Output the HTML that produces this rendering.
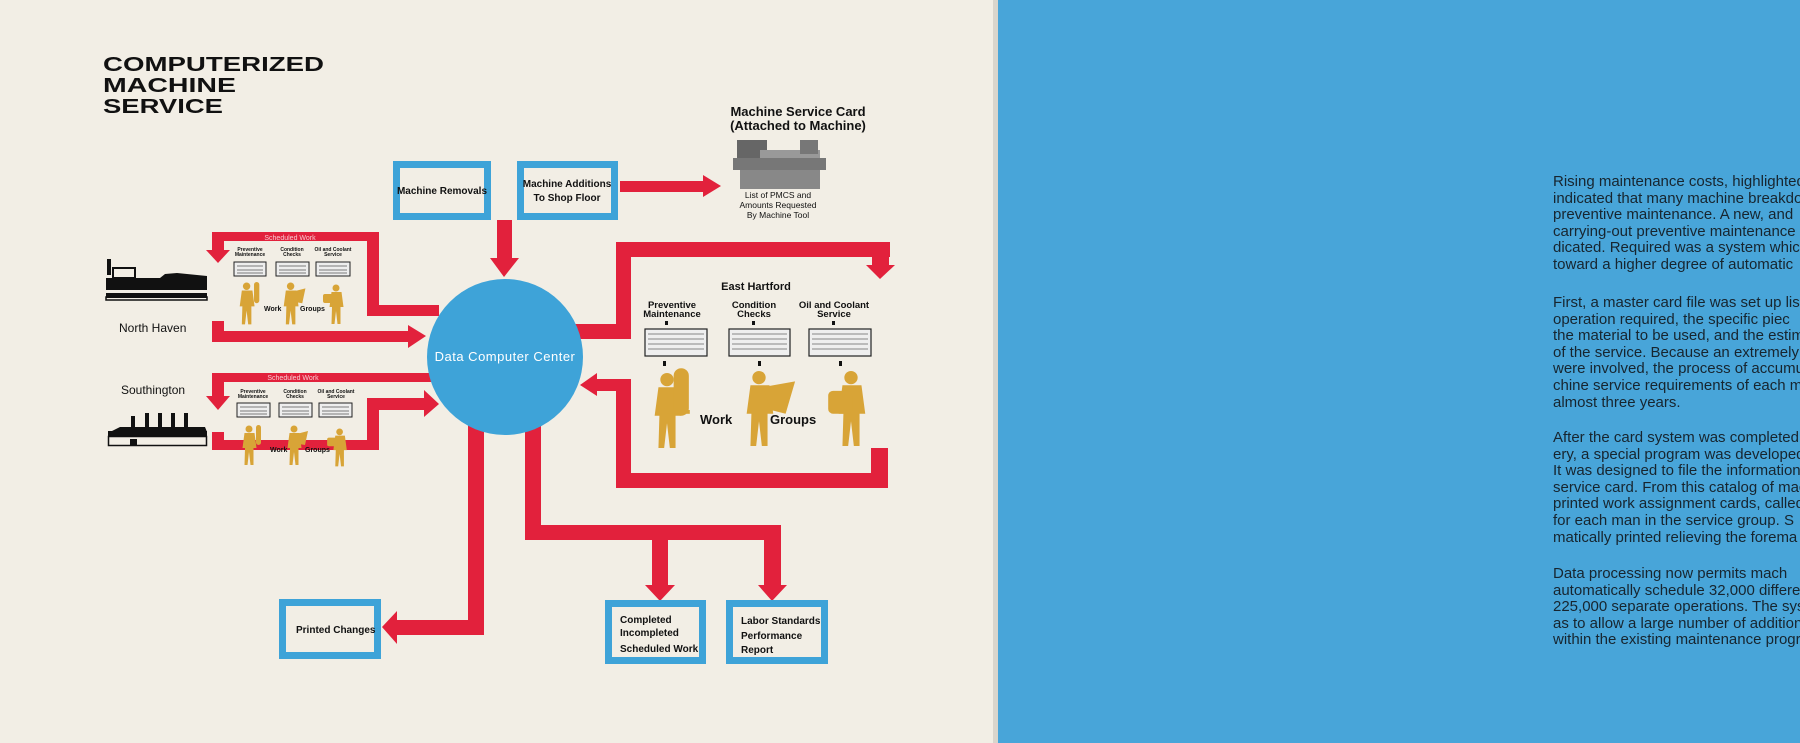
<!DOCTYPE html>
<html><head><meta charset="utf-8"><style>
html,body{margin:0;padding:0;width:1800px;height:743px;overflow:hidden;background:#f2eee5;}
#wrap{position:relative;width:1800px;height:743px;overflow:hidden;}
svg{display:block;position:absolute;left:0;top:0}
.t{font-family:"Liberation Sans",Arial,sans-serif;}
#txt{position:absolute;left:1540px;top:0;width:260px;height:743px;overflow:hidden;}
.rt{position:absolute;left:13px;font-family:"Liberation Sans",Arial,sans-serif;font-size:15px;color:#17252f;white-space:nowrap;line-height:16.6px;}
</style></head><body><div id="wrap">
<svg width="1800" height="743" viewBox="0 0 1800 743" xmlns="http://www.w3.org/2000/svg">
<defs>
<g id="p1"><circle cx="20" cy="8" r="7"/><path d="M11 16 L31 16 L35 46 L29 46 L29 80 L23 80 L20 54 L17 80 L11 80 L12 46 L7 46 Z"/></g>
</defs>
<rect x="0" y="0" width="995" height="743" fill="#f2eee5"/>
<rect x="993" y="0" width="6" height="743" fill="#d9d5cc"/>
<rect x="998" y="0" width="802" height="743" fill="#48a5d9"/>

<g class="t" font-weight="bold" font-size="20" fill="#111">
<text x="103" y="71" textLength="221" lengthAdjust="spacingAndGlyphs">COMPUTERIZED</text>
<text x="103" y="92" textLength="133" lengthAdjust="spacingAndGlyphs">MACHINE</text>
<text x="103" y="113" textLength="120" lengthAdjust="spacingAndGlyphs">SERVICE</text>
</g>

<g fill="#e2213c">
<rect x="497" y="220" width="15" height="42"/><polygon points="490,258 519,258 504,277"/>
<rect x="620" y="181" width="86" height="11"/><polygon points="703,175 721,186 703,197"/>
<rect x="212" y="232" width="167" height="9"/><rect x="367" y="232" width="12" height="84"/><rect x="367" y="305" width="72" height="11"/>
<rect x="212" y="232" width="12" height="22"/><polygon points="206,250 230,250 218,263"/>
<rect x="212" y="321" width="12" height="21"/><rect x="212" y="331" width="200" height="11"/><polygon points="408,325 426,336 408,348"/>
<rect x="212" y="373" width="222" height="9"/><rect x="212" y="373" width="12" height="26"/><polygon points="206,396 230,396 218,410"/>
<rect x="367" y="398" width="62" height="12"/><polygon points="424,390 439,404 424,417"/>
<rect x="367" y="398" width="12" height="52"/><rect x="212" y="440" width="167" height="10"/><rect x="212" y="432" width="12" height="18"/>
<rect x="616" y="242" width="274" height="15"/><rect x="872" y="242" width="17" height="26"/><polygon points="866,265 895,265 880,279"/>
<rect x="616" y="242" width="15" height="97"/><rect x="575" y="324" width="56" height="15"/>
<rect x="594" y="379" width="37" height="12"/><polygon points="597,373 580,385 597,396"/>
<rect x="616" y="379" width="15" height="109"/><rect x="616" y="473" width="272" height="15"/><rect x="871" y="448" width="17" height="40"/>
<rect x="468" y="420" width="16" height="215"/><rect x="394" y="620" width="90" height="15"/><polygon points="397,611 382,627 397,644"/>
<rect x="525" y="420" width="16" height="120"/><rect x="525" y="525" width="256" height="15"/>
<rect x="652" y="525" width="16" height="64"/><polygon points="645,585 675,585 660,601"/>
<rect x="764" y="525" width="17" height="64"/><polygon points="758,585 787,585 772,601"/>
</g>

<circle cx="505" cy="357" r="78" fill="#3ea3d8"/>
<text class="t" x="505" y="361" text-anchor="middle" font-size="13" fill="#fff" letter-spacing="0.5">Data  Computer  Center</text>

<g fill="none" stroke="#3ea3d8" stroke-width="7">
<rect x="396.5" y="164.5" width="91" height="52"/>
<rect x="520.5" y="164.5" width="94" height="52"/>
<rect x="282.5" y="602.5" width="95" height="53"/>
<rect x="608.5" y="603.5" width="94" height="57"/>
<rect x="729.5" y="603.5" width="95" height="57"/>
</g>
<g class="t" font-weight="bold" font-size="10" fill="#111">
<text x="442" y="194" text-anchor="middle">Machine Removals</text>
<text x="567" y="187" text-anchor="middle">Machine Additions</text>
<text x="567" y="201" text-anchor="middle">To Shop Floor</text>
<text x="296" y="633">Printed Changes</text>
<text x="620" y="623">Completed</text>
<text x="620" y="636">Incompleted</text>
<text x="620" y="652">Scheduled Work</text>
<text x="741" y="624">Labor Standards</text>
<text x="741" y="639">Performance</text>
<text x="741" y="653">Report</text>
</g>

<g class="t" font-weight="bold" fill="#111">
<text x="798" y="116" text-anchor="middle" font-size="13">Machine Service Card</text>
<text x="798" y="130" text-anchor="middle" font-size="13">(Attached to Machine)</text>
<g font-size="8.5" font-weight="normal" text-anchor="middle"><text x="778" y="198">List of PMCS and</text><text x="778" y="208">Amounts Requested</text><text x="778" y="218">By Machine Tool</text></g>
</g>
<g><rect x="737" y="140" width="30" height="22" fill="#666"/><rect x="733" y="158" width="93" height="12" fill="#777"/><rect x="740" y="170" width="80" height="19" fill="#888"/><rect x="760" y="150" width="60" height="8" fill="#999"/><rect x="800" y="140" width="18" height="14" fill="#777"/></g>

<g fill="#111">
<rect x="107" y="259" width="4" height="16"/><rect x="113" y="268" width="22" height="10" fill="none" stroke="#111" stroke-width="2"/>
<path d="M106 278 L160 278 L165 274 L177 273 L207 276 L207 298 L106 298 Z"/>
<rect x="106" y="290" width="101" height="3" fill="#f2eee5"/><rect x="106" y="297" width="101" height="3" fill="none" stroke="#111" stroke-width="1.5"/>
<rect x="131" y="416" width="4" height="12"/><rect x="145" y="413" width="4" height="15"/><rect x="158" y="413" width="4" height="15"/><rect x="171" y="413" width="4" height="15"/><rect x="184" y="413" width="4" height="15"/>
<path d="M110 432 L120 427 L205 427 L207 432 Z"/><rect x="108" y="431" width="99" height="5"/>
<rect x="108.5" y="436.5" width="98" height="9" fill="none" stroke="#111" stroke-width="1.5"/><rect x="130" y="439" width="7" height="6"/>
</g>
<g class="t" fill="#111" font-size="12"><text x="119" y="332">North Haven</text><text x="121" y="394">Southington</text></g>

<g class="t" font-size="7" fill="#f6c9cf" text-anchor="middle"><text x="290" y="240">Scheduled Work</text><text x="293" y="380">Scheduled Work</text></g>

<g class="t" font-weight="bold" font-size="5" fill="#111" text-anchor="middle">
<text x="250" y="251">Preventive</text><text x="250" y="256">Maintenance</text>
<text x="292" y="251">Condition</text><text x="292" y="256">Checks</text>
<text x="333" y="251">Oil and Coolant</text><text x="333" y="256">Service</text>
<text x="253" y="393">Preventive</text><text x="253" y="398">Maintenance</text>
<text x="295" y="393">Condition</text><text x="295" y="398">Checks</text>
<text x="336" y="393">Oil and Coolant</text><text x="336" y="398">Service</text>
</g>
<g fill="#eee" stroke="#222" stroke-width="1">
<rect x="234" y="262" width="32" height="14"/><rect x="276" y="262" width="33" height="14"/><rect x="316" y="262" width="34" height="14"/>
<rect x="237" y="403" width="33" height="14"/><rect x="279" y="403" width="33" height="14"/><rect x="319" y="403" width="33" height="14"/>
</g>
<g stroke="#555" stroke-width="0.8"><path d="M237 266h26M237 270h26M237 273h26M279 266h27M279 270h27M279 273h27M319 266h28M319 270h28M319 273h28M240 407h27M240 411h27M240 414h27M282 407h27M282 411h27M282 414h27M322 407h27M322 411h27M322 414h27"/></g>

<g fill="#d8a437">
<g transform="translate(236,282) scale(0.53)"><use href="#p1"/><rect x="34" y="0" width="10" height="40" rx="5"/></g>
<g transform="translate(280,282) scale(0.53)"><use href="#p1"/><path d="M25 18 L48 12 L42 40 L30 38 Z"/></g>
<g transform="translate(326,284) scale(0.5)"><use href="#p1"/><rect x="-6" y="20" width="22" height="18" rx="4"/></g>
<g transform="translate(239,425) scale(0.5)"><use href="#p1"/><rect x="34" y="0" width="10" height="40" rx="5"/></g>
<g transform="translate(284,425) scale(0.5)"><use href="#p1"/><path d="M25 18 L48 12 L42 40 L30 38 Z"/></g>
<g transform="translate(330,428) scale(0.48)"><use href="#p1"/><rect x="-6" y="20" width="22" height="18" rx="4"/></g>
</g>
<g class="t" font-weight="bold" font-size="7" fill="#111"><text x="264" y="311">Work</text><text x="300" y="311">Groups</text><text x="270" y="452">Work</text><text x="305" y="452">Groups</text></g>

<g class="t" font-weight="bold" fill="#111" text-anchor="middle">
<text x="756" y="290" font-size="11">East Hartford</text>
<g font-size="9.5"><text x="672" y="308">Preventive</text><text x="672" y="317">Maintenance</text>
<text x="754" y="308">Condition</text><text x="754" y="317">Checks</text>
<text x="834" y="308">Oil and Coolant</text><text x="834" y="317">Service</text></g>
</g>
<g fill="#111"><rect x="665" y="321" width="3" height="4"/><rect x="752" y="321" width="3" height="4"/><rect x="832" y="321" width="3" height="4"/>
<rect x="663" y="361" width="3" height="5"/><rect x="758" y="361" width="3" height="5"/><rect x="839" y="361" width="3" height="5"/></g>
<g fill="#efefef" stroke="#222" stroke-width="1.2"><rect x="645" y="329" width="62" height="27"/><rect x="729" y="329" width="61" height="27"/><rect x="809" y="329" width="62" height="27"/></g>
<g stroke="#666" stroke-width="0.8"><path d="M648 334h56M648 339h56M648 344h56M648 349h56M732 334h55M732 339h55M732 344h55M732 349h55M812 334h56M812 339h56M812 344h56M812 349h56"/></g>
<g fill="#d8a437">
<g transform="translate(648,372) scale(0.95)"><use href="#p1"/><rect x="27" y="-4" width="16" height="50" rx="8"/><rect x="20" y="40" width="24" height="4"/></g>
<g transform="translate(740,370) scale(0.95)"><use href="#p1"/><path d="M24 18 L58 12 L48 46 L32 42 Z"/></g>
<g transform="translate(832,370) scale(0.95)"><use href="#p1"/><rect x="-4" y="22" width="26" height="24" rx="5"/></g>
</g>
<g class="t" font-weight="bold" font-size="13" fill="#111"><text x="700" y="424">Work</text><text x="770" y="424">Groups</text></g>
</svg>

<div id="txt">
<div class="rt" style="top:174px">Rising maintenance costs, highlighted<br>indicated that many machine breakdo<br>preventive maintenance. A new, and<br>carrying-out preventive maintenance<br>dicated. Required was a system whic<br>toward a higher degree of automatic</div>
<div class="rt" style="top:295px">First, a master card file was set up lis<br>operation required, the specific piec<br>the material to be used, and the estim<br>of the service. Because an extremely<br>were involved, the process of accumu<br>chine service requirements of each ma<br>almost three years.</div>
<div class="rt" style="top:430px">After the card system was completed<br>ery, a special program was developed<br>It was designed to file the information<br>service card. From this catalog of mac<br>printed work assignment cards, called<br>for each man in the service group. S<br>matically printed relieving the forema</div>
<div class="rt" style="top:566px">Data processing now permits mach<br>automatically schedule 32,000 differe<br>225,000 separate operations. The sys<br>as to allow a large number of addition<br>within the existing maintenance progra</div>
</div>
</div></body></html>
